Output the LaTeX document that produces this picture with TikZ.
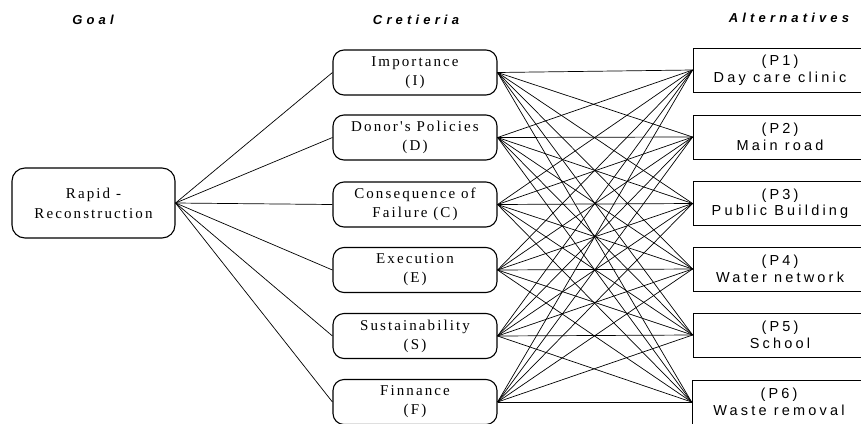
\documentclass[tikz,border=0pt]{standalone}
\usepackage{fontspec}
\setmainfont{Liberation Serif}
\newfontfamily\spserif[LetterSpace=14]{Liberation Serif}
\newfontfamily\spsans[LetterSpace=22]{Liberation Sans}
\newfontfamily\sptitle[LetterSpace=32]{Liberation Sans}
\begin{document}
\begin{tikzpicture}[x=1pt,y=-1pt,
  goalbox/.style={draw, line width=1.1pt, rounded corners=13pt, minimum width=163pt, minimum height=70pt, align=center, font=\spserif\fontsize{15}{20}\selectfont, inner sep=0pt},
  critbox/.style={draw, line width=1.1pt, rounded corners=11pt, minimum width=164pt, minimum height=45pt, align=center, font=\spserif\fontsize{15}{19}\selectfont, inner sep=0pt},
  altbox/.style={draw, line width=0.8pt, minimum width=174pt, minimum height=44pt, align=center, font=\spsans\fontsize{14.5}{16.5}\selectfont, inner sep=0pt},
  titlelab/.style={font=\sptitle\bfseries\itshape\fontsize{13}{15}\selectfont, inner sep=0pt},
  link/.style={line width=0.7pt}]
\useasboundingbox (0,0) rectangle (861,423);
\begin{scope}
\clip (0,0) rectangle (861,423);
\node[titlelab] (tg) at (93,20) {Goal};
\node[titlelab] (tc) at (416,20) {Cretieria};
\node[titlelab] (ta) at (789,18) {Alternatives};

\node[goalbox] (g) at (93.5,203) {Rapid -\\Reconstruction};

\node[critbox] (c1) at (415,72.5) {Importance\\(I)};
\node[critbox] (c2) at (415,137.5) {Donor's Policies\\(D)};
\node[critbox] (c3) at (415,204.5) {Consequence of\\Failure (C)};
\node[critbox] (c4) at (415,270) {Execution\\(E)};
\node[critbox] (c5) at (415,336) {Sustainability\\(S)};
\node[critbox] (c6) at (415,402) {Finnance\\(F)};

\node[altbox] (a1) at (780,70) {(P1)\\Day care clinic};
\node[altbox] (a2) at (780,137) {(P2)\\Main road};
\node[altbox] (a3) at (780,203.5) {(P3)\\Public Building};
\node[altbox] (a4) at (780,269) {(P4)\\Water network};
\node[altbox] (a5) at (780,335) {(P5)\\School};
\node[altbox] (a6) at (779,402) {(P6)\\Waste removal};

\foreach \i in {1,...,6}{
  \draw[link] (g.east) -- (c\i.west);
  \foreach \j in {1,...,6}{
    \draw[link] (c\i.east) -- (a\j.west);
  }
}
\end{scope}
\end{tikzpicture}
\end{document}
